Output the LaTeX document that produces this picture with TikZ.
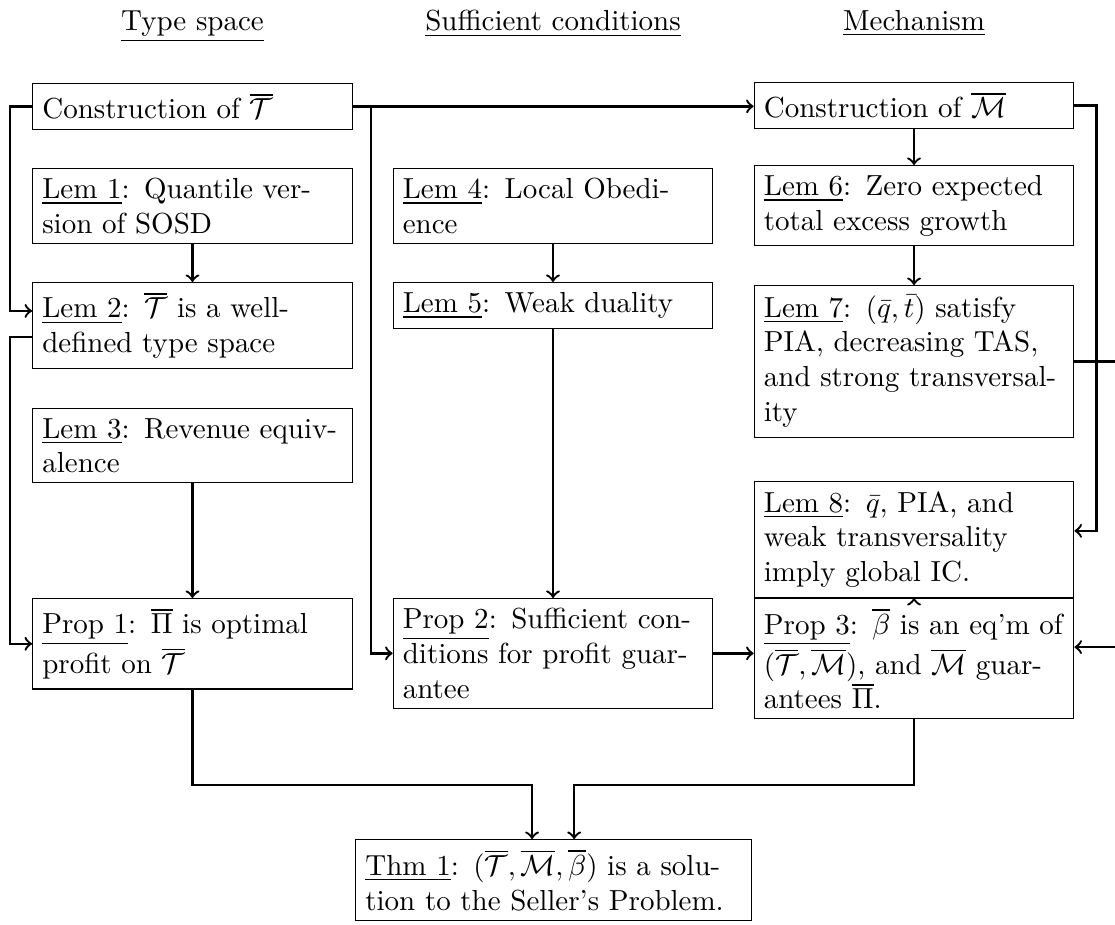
\documentclass[tikz,border=0pt]{standalone}
\begin{document}
\begin{tikzpicture}[
    box/.style={rectangle, draw=black, text width=3.64cm, align=left, anchor=north, inner sep=3.33pt},
    widebox/.style={box, text width=4.56cm},
    hdr/.style={anchor=base},
    link/.style={->, thick}
]
    \useasboundingbox (0,0) rectangle (13.515,-11.2);

    \node[hdr] at (2.333,-0.37) (hType) {\underline{Type space}};
    \node[hdr] at (6.703,-0.37) (hSuff) {\underline{Sufficient conditions}};
    \node[hdr] at (11.079,-0.37) (hMech) {\underline{Mechanism}};

    \node[box] at (2.333,-1.006) (ConT) {Construction of $\overline{\mathcal{T}}$};
    \node[box] at (2.333,-2.036) (Lem1) {\underline{Lem 1}: Quantile ver-\\sion of SOSD};
    \node[box] at (2.333,-3.418) (Lem2) {\underline{Lem 2}: $\overline{\mathcal{T}}$ is a well-\\defined type space};
    \node[box] at (2.333,-4.945) (Lem3) {\underline{Lem 3}: Revenue equiv-\\alence};
    \node[box] at (2.333,-7.248) (Prop1) {\underline{Prop 1}: $\overline{\Pi}$ is optimal\\profit on $\overline{\mathcal{T}}$};

    \node[box] at (6.703,-2.036) (Lem4) {\underline{Lem 4}: Local Obedi-\\ence};
    \node[box] at (6.703,-3.418) (Lem5) {\underline{Lem 5}: Weak duality};
    \node[box] at (6.703,-7.248) (Prop2) {\underline{Prop 2}: Sufficient con-\\ditions for profit guar-\\antee};

    \node[box] at (11.079,-0.994) (ConM) {Construction of $\overline{\mathcal{M}}$};
    \node[box] at (11.079,-2.0) (Lem6) {\underline{Lem 6}: Zero expected\\total excess growth};
    \node[box] at (11.079,-3.455) (Lem7) {\underline{Lem 7}: $(\bar{q},\bar{t})$ satisfy\\PIA, decreasing TAS,\\and strong transversal-\\ity};
    \node[box] at (11.079,-7.248) (Prop3) {\underline{Prop 3}: $\overline{\beta}$ is an eq'm of\\$(\overline{\mathcal{T}},\overline{\mathcal{M}})$, and $\overline{\mathcal{M}}$ guar-\\antees $\overline{\Pi}$.};
    \node[box, anchor=south] at (Prop3.north) (Lem8) {\underline{Lem 8}: $\bar{q}$, PIA, and\\weak transversality\\imply global IC.};

    \node[widebox] at (6.709,-10.170) (Thm1) {\underline{Thm 1}: $(\overline{\mathcal{T}},\overline{\mathcal{M}},\overline{\beta})$ is a solu-\\tion to the Seller's Problem.};
    \coordinate (merge) at (6.709,-9.515);

    \draw[link] (ConT.west) -- ++(-0.267,0) |- ([yshift=5pt]Lem2.west);
    \draw[link] ([yshift=-4pt]Lem2.west) -- ++(-0.267,0) |- (Prop1.west);
    \draw[link] (Lem1.south) -- (Lem2.north);
    \draw[link] (Lem3.south) -- (Prop1.north);

    \draw[link] (ConT.east) -- (ConT.east -| ConM.west);
    \draw[link] (ConT.east) -- ++(0.218,0) |- (Prop2.west);
    \draw[link] (Lem4.south) -- (Lem5.north);
    \draw[link] (Lem5.south) -- (Prop2.north);
    \draw[link] (Prop2.east) -- (Prop2.east -| Prop3.west);

    \draw[link] (ConM.south) -- (Lem6.north);
    \draw[link] (Lem6.south) -- (Lem7.north);
    \draw[link] (ConM.east) -- ++(0.267,0) |- ([yshift=3pt]Lem8.east);
    \draw[link] (Lem7.east) -- ++(0.6,0) |- ([yshift=4pt]Prop3.east);
    \draw[link] ([yshift=-0.5pt]Prop3.north) -- (Lem8.south);

    \draw[link] (Prop1.south) |- ([xshift=-0.26cm]merge) -- ([xshift=-0.26cm]Thm1.north);
    \draw[link] (Prop3.south) |- ([xshift=0.25cm]merge) -- ([xshift=0.25cm]Thm1.north);
\end{tikzpicture}
\end{document}
